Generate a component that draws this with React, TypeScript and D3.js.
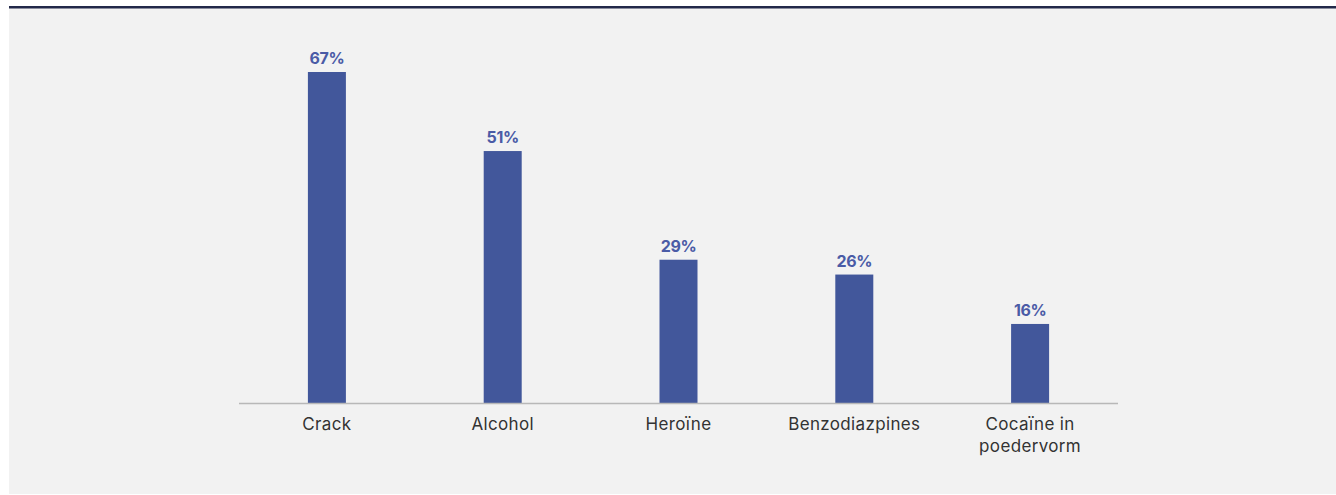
import React from "react";
import * as d3 from "d3";

const categories: string[][] = [
  ["Crack"],
  ["Alcohol"],
  ["Heroïne"],
  ["Benzodiazpines"],
  ["Cocaïne in", "poedervorm"],
];
const values: number[] = [67, 51, 29, 26, 16];

const W = 1336;
const H = 495;

export default function App() {
  const x = d3
    .scaleBand<number>()
    .domain(values.map((_, i) => i))
    .range([239, 1118])
    .paddingInner(0.784)
    .paddingOuter(0.392);
  const y = d3.scaleLinear().domain([0, 67]).range([403, 72]);
  const bw = 38;
  return (
    <svg
      width={W}
      height={H}
      style={{ position: "absolute", left: 0, top: 0 }}
      fontFamily="Inter, 'Noto Sans', sans-serif"
    >
      <rect x={0} y={0} width={W} height={H} fill="#ffffff" />
      <rect x={9} y={6} width={W - 9} height={488} fill="#f2f2f2" />
      <rect x={9} y={6} width={W - 9} height={2.5} fill="#22294a" />
      {values.map((v, i) => {
        const cx = (x(i) as number) + x.bandwidth() / 2;
        return (
          <g key={i}>
            <rect x={cx - bw / 2} y={y(v)} width={bw} height={y(0) - y(v)} fill="#42579b" />
            <text
              x={cx}
              y={y(v) - 8}
              textAnchor="middle"
              fontSize={16}
              fontWeight={700}
              letterSpacing={-0.4}
              fill="#4a5ba6"
            >
              {v}%
            </text>
            {categories[i].map((line, j) => (
              <text
                key={j}
                x={cx}
                y={430 + j * 22}
                textAnchor="middle"
                fontSize={17}
                letterSpacing={0.35}
                fill="#333333"
              >
                {line}
              </text>
            ))}
          </g>
        );
      })}
      <line x1={239} x2={1118} y1={403.5} y2={403.5} stroke="#b8b8b8" strokeWidth={1.5} />
    </svg>
  );
}
